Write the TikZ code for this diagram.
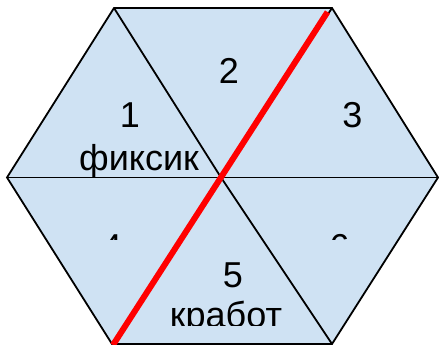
\documentclass[tikz,border=0pt]{standalone}
\usepackage{fontspec}
\setmainfont{Liberation Sans}
\definecolor{tri}{RGB}{207,226,243}
\begin{document}
\begin{tikzpicture}[x=1pt,y=-1pt,
  edge/.style={draw=black,line width=1.8pt,line join=miter},
  lbl/.style={inner sep=0pt,anchor=base,font=\fontsize{36}{43}\selectfont}]
\useasboundingbox (0,0) rectangle (439,345);
\coordinate (TL) at (114,8);
\coordinate (TR) at (332,8);
\coordinate (R) at (438,177.5);
\coordinate (BR) at (332,344);
\coordinate (BL) at (112,344);
\coordinate (L) at (7,177.5);
\coordinate (C) at (221,177.5);
\coordinate (RT) at (327.5,12);
\coordinate (RB) at (113,345);
\fill[tri] (TL) -- (TR) -- (R) -- (BR) -- (BL) -- (L) -- cycle;
% labels
\node[lbl] (n1) at (129.8,127) {1};
\node[lbl] (n1t) at (139,170) {фиксик};
\node[lbl] (n2) at (229,83) {2};
\node[lbl] (n3) at (352.5,127) {3};
\node[lbl] (n5) at (233,287) {5};
\begin{scope}
\clip (0,0) rectangle (439,325);
\node[lbl] (n5t) at (226,327) {кработ};
\end{scope}
\begin{scope}
\clip (0,232) rectangle (439,239);
\node[lbl] (n4) at (112,259) {4};
\node[lbl] (n6) at (339.5,259) {6};
\end{scope}
% edges
\draw[edge] (TL) -- (TR) -- (R) -- (BR) -- (BL) -- (L) -- cycle;
\draw[edge] (L) -- (R);
\draw[edge] (TL) -- (C) -- (BR);
\draw[edge] (TR) -- (C);
\draw[edge] (C) -- (BL);
\draw[red,line width=6pt] (RT) -- (RB);
\end{tikzpicture}
\end{document}
